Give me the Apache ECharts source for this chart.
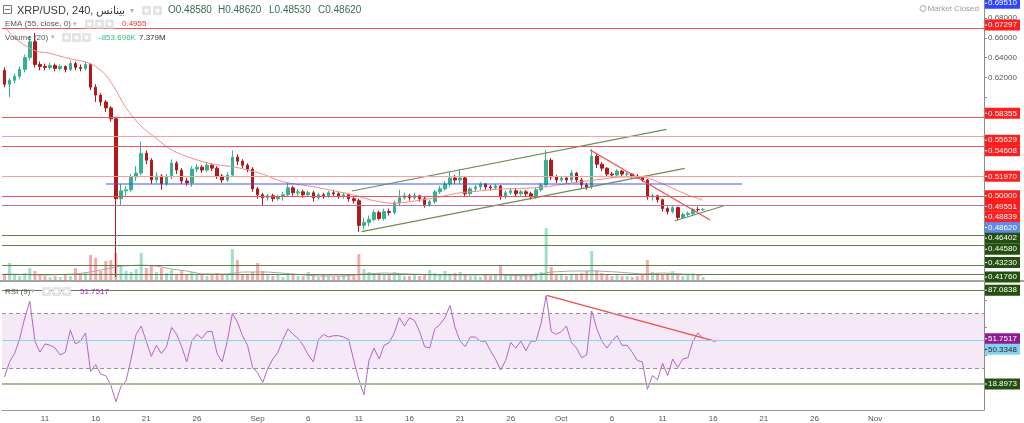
<!DOCTYPE html>
<html><head><meta charset="utf-8">
<script src="https://cdn.jsdelivr.net/npm/echarts@6.0.0/dist/echarts.min.js"></script>
<style>html,body{margin:0;padding:0;background:#fff;overflow:hidden}#c{width:1024px;height:423px}</style>
</head><body><div id="c"></div>
<script>
// ---------- DATA ----------
const START_UTC = Date.UTC(2023, 7, 7);   // first 12h slot: 2023-08-07 00:00
const SLOT_HOURS = 12;
const SLOT_COUNT = 194;                   // axis runs to mid-November

const tickDates = ['2023-08-11','2023-08-16','2023-08-21','2023-08-26','2023-09-01','2023-09-06','2023-09-11','2023-09-16','2023-09-21','2023-09-26','2023-10-01','2023-10-06','2023-10-11','2023-10-16','2023-10-21','2023-10-26','2023-11-01'];
const tickTexts = ['11','16','21','26','Sep','6','11','16','21','26','Oct','6','11','16','21','26','Nov'];

// 12h candles [open, close, low, high]
const candles = [
[0.627,0.613,0.610,0.630],[0.613,0.617,0.600,0.619],[0.617,0.621,0.614,0.624],[0.621,0.628,0.618,0.631],[0.628,0.640,0.625,0.643],
[0.640,0.656,0.637,0.662],[0.656,0.633,0.630,0.665],[0.633,0.631,0.627,0.636],[0.631,0.630,0.627,0.634],[0.630,0.632,0.628,0.635],
[0.632,0.629,0.626,0.634],[0.629,0.631,0.627,0.633],[0.631,0.628,0.625,0.632],[0.628,0.634,0.626,0.637],[0.634,0.630,0.627,0.636],
[0.630,0.629,0.626,0.633],[0.629,0.633,0.627,0.636],[0.633,0.610,0.607,0.634],[0.610,0.602,0.595,0.613],[0.602,0.595,0.591,0.604],
[0.595,0.589,0.585,0.597],[0.589,0.578,0.575,0.591],[0.578,0.497,0.4176,0.580],[0.497,0.505,0.490,0.512],[0.505,0.506,0.500,0.510],
[0.506,0.519,0.504,0.522],[0.519,0.523,0.515,0.530],[0.523,0.543,0.521,0.555],[0.543,0.536,0.532,0.546],[0.536,0.516,0.512,0.538],
[0.516,0.520,0.513,0.524],[0.520,0.512,0.506,0.522],[0.512,0.519,0.510,0.522],[0.519,0.533,0.517,0.537],[0.533,0.526,0.522,0.535],
[0.526,0.515,0.512,0.528],[0.515,0.513,0.510,0.518],[0.513,0.527,0.509,0.530],[0.527,0.529,0.524,0.532],[0.529,0.526,0.523,0.531],
[0.526,0.531,0.524,0.534],[0.531,0.528,0.525,0.533],[0.528,0.520,0.517,0.530],[0.520,0.516,0.513,0.522],[0.516,0.521,0.514,0.524],
[0.521,0.539,0.519,0.546],[0.539,0.535,0.531,0.542],[0.535,0.531,0.528,0.537],[0.531,0.527,0.524,0.533],[0.527,0.507,0.504,0.529],
[0.507,0.501,0.497,0.509],[0.501,0.498,0.490,0.503],[0.498,0.500,0.495,0.502],[0.500,0.497,0.494,0.502],[0.497,0.499,0.495,0.501],
[0.499,0.501,0.495,0.504],[0.501,0.508,0.499,0.513],[0.508,0.503,0.500,0.510],[0.503,0.504,0.500,0.507],[0.504,0.501,0.498,0.506],
[0.501,0.503,0.499,0.505],[0.503,0.498,0.494,0.505],[0.498,0.501,0.496,0.503],[0.501,0.500,0.497,0.503],[0.500,0.503,0.498,0.505],
[0.503,0.502,0.499,0.506],[0.502,0.500,0.497,0.504],[0.500,0.501,0.497,0.503],[0.501,0.497,0.494,0.502],[0.497,0.495,0.492,0.499],
[0.495,0.470,0.4636,0.497],[0.470,0.473,0.466,0.478],[0.473,0.476,0.469,0.480],[0.476,0.483,0.474,0.486],[0.483,0.477,0.475,0.485],
[0.477,0.484,0.475,0.487],[0.484,0.483,0.480,0.487],[0.483,0.493,0.481,0.495],[0.493,0.498,0.490,0.506],[0.498,0.500,0.496,0.503],
[0.500,0.498,0.495,0.502],[0.498,0.500,0.496,0.503],[0.500,0.497,0.494,0.501],[0.497,0.491,0.488,0.499],[0.491,0.494,0.489,0.496],
[0.494,0.504,0.492,0.506],[0.504,0.507,0.502,0.510],[0.507,0.512,0.505,0.515],[0.512,0.518,0.509,0.524],[0.518,0.516,0.512,0.521],
[0.516,0.518,0.512,0.526],[0.518,0.502,0.499,0.519],[0.502,0.507,0.500,0.509],[0.507,0.509,0.504,0.511],[0.509,0.512,0.506,0.514],
[0.512,0.509,0.506,0.513],[0.509,0.508,0.505,0.511],[0.508,0.510,0.506,0.512],[0.510,0.499,0.496,0.511],[0.499,0.503,0.497,0.505],
[0.503,0.505,0.501,0.508],[0.505,0.502,0.499,0.507],[0.502,0.504,0.500,0.506],[0.504,0.502,0.499,0.506],[0.502,0.499,0.496,0.504],
[0.499,0.506,0.497,0.508],[0.506,0.511,0.504,0.513],[0.511,0.536,0.509,0.546],[0.536,0.519,0.516,0.538],[0.519,0.516,0.513,0.521],
[0.516,0.518,0.514,0.520],[0.518,0.516,0.513,0.520],[0.516,0.523,0.514,0.526],[0.523,0.516,0.513,0.524],[0.516,0.511,0.508,0.518],
[0.511,0.509,0.506,0.513],[0.509,0.540,0.507,0.547],[0.540,0.532,0.528,0.542],[0.532,0.528,0.525,0.534],[0.528,0.522,0.519,0.529],
[0.522,0.521,0.518,0.524],[0.521,0.525,0.519,0.527],[0.525,0.522,0.520,0.526],[0.522,0.522,0.519,0.524],[0.522,0.520,0.518,0.523],
[0.520,0.519,0.517,0.522],[0.519,0.516,0.514,0.520],[0.516,0.499,0.496,0.517],[0.499,0.500,0.495,0.502],[0.500,0.496,0.493,0.501],
[0.496,0.487,0.484,0.497],[0.487,0.484,0.481,0.489],[0.484,0.488,0.482,0.490],[0.488,0.478,0.475,0.489],[0.478,0.481,0.477,0.483],
[0.481,0.482,0.479,0.484],[0.482,0.486,0.480,0.488],[0.486,0.4858,0.484,0.489],[0.4858,0.4862,0.4845,0.4875]
];

// volume per 12h slot (relative units)
const volumes = [
6,17,5,4,7,12,9,5,4,3, 4,3,5,4,12,6,7,25,22,9, 19,20,27,14,9,8,11,27,12,15, 8,12,7,10,6,9,5,8,6,5,
4,5,7,6,5,31,20,6,5,8, 17,9,6,4,5,3,7,5,4,4, 8,4,3,5,4,3,4,5,4,6, 26,11,8,6,7,5,6,8,5,4,
4,5,4,6,10,7,6,9,6,7, 8,5,4,4,3,5,4,5,15,6, 5,4,4,6,5,7,8,52,13,6, 5,4,5,6,7,9,29,10,7,5,
4,5,4,4,3,4,6,20,8,7, 6,5,9,6,4,5,7,5,3
];
// volume MA(20), [slot, value]
const volumeMA = [[0,6],[8,5],[14,6],[17,8],[20,11],[23,14],[27,15],[30,14],[33,11],[36,9],[39,6],[44,6],[47,8],[52,8],[57,6],[62,4],[67,4],[71,6],[75,7],[80,6],[86,5],[92,5],[98,5],[104,4],[108,8],[112,9],[117,9],[121,8],[126,6],[130,7],[134,6],[138,5]];

// EMA(55) read points, [slot, price]
const emaPoints = [[0,0.672],[1,0.665],[3,0.656],[6,0.647],[9,0.6443],[12,0.640],[16,0.6355],[18,0.631],[20,0.6224],[22,0.607],[24,0.589],[27,0.5705],[30,0.558],[33,0.5464],[37,0.538],[41,0.5322],[45,0.5295],[48,0.5261],[51,0.522],[55,0.5142],[61,0.5092],[65,0.5051],[69,0.5008],[73,0.495],[77,0.4922],[80,0.494],[84,0.497],[87,0.500],[90,0.503],[94,0.505],[97,0.5065],[106,0.5085],[112,0.513],[116,0.5155],[119,0.5175],[122,0.519],[126,0.519],[129,0.5142],[132,0.5076],[135,0.5008],[138,0.4955]];

// RSI(9) per 12h slot
const rsi = [
24,35,41,52,67,79,50,42,48,47, 45,40,42,58,48,50,56,28,33,26, 25,18,6,17,21,37,55,61,50,39,
47,41,46,60,55,46,35,50,55,52, 57,57,41,35,50,70,64,54,47,31, 27,20,30,37,42,51,59,55,52,47,
40,35,51,55,53,54,54,53,51,36, 22,11,36,45,37,47,49,56,67,61, 67,65,57,46,45,59,62,67,76,60,
50,46,53,53,50,50,43,37,29,36, 49,45,50,43,50,50,63,83,57,55, 57,61,49,45,38,40,72,59,50,45,
50,54,47,47,42,36,35,15,25,22, 34,25,37,31,37,38,50,56,51.75
];

// horizontal levels
const redLevels = [0.67297, 0.58355, 0.55629, 0.54608, 0.51970, 0.50000, 0.48839];
const greenLevels = [0.46402, 0.44580, 0.43230, 0.41760];
const topLevel = 0.69510;
const lastPrice = 0.48620;
const emaLast = 0.49551;
const rsiLast = 51.7517;
const rsiMid = 50.3348;
const rsiHigh = 87.0838;
const rsiLow = 18.8973;
const rsiBand = [30, 70];

// drawn lines, [slot, value]
const blueLine = [[20.05,0.5119],[145.7,0.5119]];
const channelUpper = [[68.6,0.5048],[130.8,0.5673]];
const channelLower = [[70.56,0.4636],[134.4,0.5278]];
const redDown = [[115.7,0.5464],[139.4,0.4754]];
const smallSupport = [[132.45,0.4747],[142.0,0.4896]];
const rsiTrend = [[107.1,83.3],[140.5,49.9]];

// ---------- CHART ----------
const FONT = 'Liberation Sans, Arial, sans-serif';
const PMAX = 0.69834, PMIN = 0.41364;   // visible price range of the main pane
const categories = [];
for (let i = 0; i < SLOT_COUNT; i++) {
  categories.push(new Date(START_UTC + i * SLOT_HOURS * 3600e3).toISOString().slice(0, 13));
}
const labelMap = new Map(tickDates.map((d, i) => [d + 'T00', tickTexts[i]]));

const UP = '#35b095', DOWN = '#b3191b';
const chart = echarts.init(document.getElementById('c'), null, {renderer: 'canvas'});

const lineSeries = (name, data, color, xi, yi, w) => ({
  type: 'line', name, data, xAxisIndex: xi, yAxisIndex: yi, symbol: 'none',
  lineStyle: {color, width: w || 1}, silent: true, z: 4
});

const levelLine = (v, color, type, width) => ({yAxis: v, lineStyle: {color, type: type || 'solid', width: width || 1}});

const option = {
  animation: false,
  textStyle: {fontFamily: FONT},
  grid: [
    {left: 2, right: 40, top: 0, height: 281},
    {left: 2, right: 40, top: 222, height: 58},
    {left: 2, right: 40, top: 282, height: 128}
  ],
  xAxis: [
    {type: 'category', gridIndex: 0, data: categories, show: false},
    {type: 'value', gridIndex: 0, min: -0.5, max: SLOT_COUNT - 0.5, show: false},
    {type: 'category', gridIndex: 1, data: categories, show: false},
    {type: 'value', gridIndex: 1, min: -0.5, max: SLOT_COUNT - 0.5, show: false},
    {type: 'category', gridIndex: 2, data: categories,
      axisLine: {show: true, onZero: false, lineStyle: {color: '#9a9a9a'}},
      axisTick: {show: false},
      axisLabel: {interval: (idx, val) => labelMap.has(val), formatter: v => labelMap.get(v) || '',
        color: '#555', fontSize: 8, margin: 5, fontFamily: FONT}},
    {type: 'value', gridIndex: 2, min: -0.5, max: SLOT_COUNT - 0.5, show: false}
  ],
  yAxis: [
    {type: 'value', gridIndex: 0, position: 'right', min: PMIN, max: PMAX,
      axisLine: {show: true, onZero: false, lineStyle: {color: '#8c8c8c'}},
      axisTick: {show: true, length: 3, customValues: [0.60, 0.62, 0.64, 0.66, 0.68], lineStyle: {color: '#8c8c8c'}},
      axisLabel: {customValues: [0.62, 0.64, 0.66, 0.68], formatter: v => v.toFixed(5), color: '#555', fontSize: 8, margin: 4, fontFamily: FONT},
      splitLine: {show: false}},
    {type: 'value', gridIndex: 1, min: 0, max: 58, show: false},
    {type: 'value', gridIndex: 2, position: 'right', min: 0, max: 93,
      axisLine: {show: true, onZero: false, lineStyle: {color: '#8c8c8c'}},
      axisTick: {show: true, length: 3, customValues: [20, 40, 60, 80], lineStyle: {color: '#8c8c8c'}},
      axisLabel: {show: false}, splitLine: {show: false}}
  ],
  series: [
    {type: 'bar', data: volumes.map((v, i) => ({value: v, itemStyle: {color: candles[i][1] >= candles[i][0] ? '#9fe0c8' : '#f7aaaa'}})),
      xAxisIndex: 2, yAxisIndex: 1, barWidth: 3, silent: true, z: 1},
    Object.assign(lineSeries('volMA', volumeMA, '#a8a8a8', 3, 1, 1), {z: 2}),
    Object.assign(lineSeries('ema', emaPoints, '#f28a8a', 1, 0, 1), {smooth: 0.3,
      markLine: {silent: true, symbol: 'none', label: {show: false},
        data: [levelLine(topLevel, '#3347ff', 'dashed')]
          .concat(redLevels.map(v => levelLine(v, (v === 0.55629 || v === 0.5197) ? '#f6a0a0' : '#f05555')))
          .concat(greenLevels.map(v => levelLine(v, '#5f7f4c')))
          .concat([levelLine(lastPrice, '#7b98ea', 'dotted')])}}),
    {type: 'candlestick', data: candles, xAxisIndex: 0, yAxisIndex: 0, barWidth: 3, silent: true, z: 3,
      itemStyle: {color: UP, color0: DOWN, borderColor: UP, borderColor0: DOWN, borderWidth: 1}},
    lineSeries('blue', blueLine, '#4254f5', 1, 0, 1.2),
    lineSeries('chU', channelUpper, '#6f8c58', 1, 0, 1.2),
    lineSeries('chL', channelLower, '#6f8c58', 1, 0, 1.2),
    lineSeries('redDown', redDown, '#f24a4a', 1, 0, 1.2),
    lineSeries('support', smallSupport, '#6f8c58', 1, 0, 1.2),
    Object.assign(lineSeries('rsi', rsi, '#b563c9', 4, 2, 1), {
      markArea: {silent: true, itemStyle: {color: 'rgba(156,39,176,0.10)'}, data: [[{yAxis: rsiBand[0]}, {yAxis: rsiBand[1]}]]},
      markLine: {silent: true, symbol: 'none', label: {show: false},
        data: [levelLine(rsiBand[0], '#9a8f9a', [4, 3]), levelLine(rsiBand[1], '#9a8f9a', [4, 3]),
               levelLine(rsiMid, '#8fd0ea'), levelLine(rsiHigh, '#5f7f4c'), levelLine(rsiLow, '#a7bd97', 'solid', 2)]}}),
    lineSeries('rsiTrend', rsiTrend, '#f24a4a', 5, 2, 1.2)
  ]
};
chart.setOption(option);

// ---------- price-scale labels & header ----------
function stack(items, yAxisIndex, gap) {
  items.forEach(it => it.py = chart.convertToPixel({yAxisIndex}, it.v));
  items.sort((a, b) => a.py - b.py);
  let prev = -1e9;
  items.forEach(it => { it.py = Math.max(it.py, prev + gap); prev = it.py; });
  return items;
}
const fmt5 = v => v.toFixed(5);
const mainLabels = stack([
  {v: topLevel, t: fmt5(topLevel), bg: '#2f45ff', fg: '#fff'},
  ...redLevels.map(v => ({v, t: fmt5(v), bg: '#ff1d1d', fg: '#fff'})),
  {v: emaLast, t: fmt5(emaLast), bg: '#ff1d1d', fg: '#fff'},
  {v: lastPrice, t: fmt5(lastPrice), bg: '#5f8ae6', fg: '#fff'},
  ...greenLevels.map(v => ({v, t: fmt5(v), bg: '#24500f', fg: '#fff'}))
], 0, 10.6);
const rsiLabels = stack([
  {v: rsiHigh, t: rsiHigh.toFixed(4), bg: '#24500f', fg: '#fff'},
  {v: rsiLast, t: rsiLast.toFixed(4), bg: '#8e1d94', fg: '#fff'},
  {v: rsiMid, t: rsiMid.toFixed(4), bg: '#86d0ec', fg: '#223'},
  {v: rsiLow, t: rsiLow.toFixed(4), bg: '#24500f', fg: '#fff'}
], 2, 10.6);

const g = [];
[...mainLabels, ...rsiLabels].forEach(it => {
  g.push({type: 'rect', z: 100, shape: {x: 985, y: it.py - 5.5, width: 35, height: 11}, style: {fill: it.bg}});
  g.push({type: 'line', z: 101, shape: {x1: 985, y1: it.py, x2: 987, y2: it.py}, style: {stroke: it.fg, lineWidth: 1}});
  g.push({type: 'text', z: 101, style: {text: it.t, x: 988, y: it.py, fill: it.fg, fontSize: 8, fontFamily: FONT, verticalAlign: 'middle'}});
});
// pane separator
g.push({type: 'rect', z: 90, shape: {x: 0, y: 280, width: 1024, height: 2}, style: {fill: '#a3a3a3'}});

const txt = (text, x, y, fill, size, extra) => ({type: 'text', z: 110,
  style: Object.assign({text, x, y, fill, fontSize: size, fontFamily: FONT, verticalAlign: 'middle'}, extra || {})});
const icon = (x, y) => [{type: 'rect', z: 110, shape: {x, y: y - 4.5, width: 9, height: 9, r: 1}, style: {fill: '#e4e4e4'}},
  {type: 'circle', z: 111, shape: {cx: x + 4.5, cy: y, r: 2}, style: {fill: '#fff'}}];

// row 1
g.push({type: 'rect', z: 110, shape: {x: 3.5, y: 5.5, width: 8, height: 8}, style: {fill: '#fff', stroke: '#777', lineWidth: 1}});
g.push({type: 'line', z: 111, shape: {x1: 5, y1: 9.5, x2: 10, y2: 9.5}, style: {stroke: '#777'}});
g.push(txt('XRP/USD, 240, بينانس', 17, 10.5, '#3a3a3a', 11));
g.push(txt('▾', 130, 10.5, '#b0b0b0', 8));
g.push(...icon(142, 10.5), ...icon(153, 10.5));
g.push(txt('O0.48580', 168, 10.5, '#3b6b50', 10), txt('H0.48620', 218, 10.5, '#3b6b50', 10),
       txt('L0.48530', 269, 10.5, '#3b6b50', 10), txt('C0.48620', 318, 10.5, '#3b6b50', 10));
// row 2
g.push(txt('EMA (55, close, 0)', 5, 24, '#555', 8), txt('▾', 73, 24, '#b0b0b0', 7));
g.push(...icon(85, 24), ...icon(95, 24), ...icon(105, 24));
g.push(txt('0.4955', 122, 24, '#ff2b2b', 8));
// row 3
g.push(txt('Volume (20)', 5, 37.5, '#555', 8), txt('▾', 51, 37.5, '#b0b0b0', 7));
g.push(...icon(62, 37.5), ...icon(72, 37.5), ...icon(82, 37.5));
g.push(txt('-853.696K', 99, 37.5, '#33c07b', 8), txt('7.379M', 139, 37.5, '#333', 8));
// RSI header
g.push(txt('RSI (9)', 5, 291.5, '#555', 8), txt('▾', 31, 291.5, '#b0b0b0', 7));
g.push(...icon(42, 291.5), ...icon(52, 291.5), ...icon(62, 291.5));
g.push(txt('51.7517', 80, 291.5, '#9c27b0', 8));
// market status
g.push({type: 'circle', z: 110, shape: {cx: 923, cy: 8.5, r: 3}, style: {fill: 'none', stroke: '#aaa', lineWidth: 1}});
g.push(txt('Market Closed', 979, 8.5, '#9a9a9a', 8, {align: 'right'}));

chart.setOption({graphic: g});
</script>
</body></html>
